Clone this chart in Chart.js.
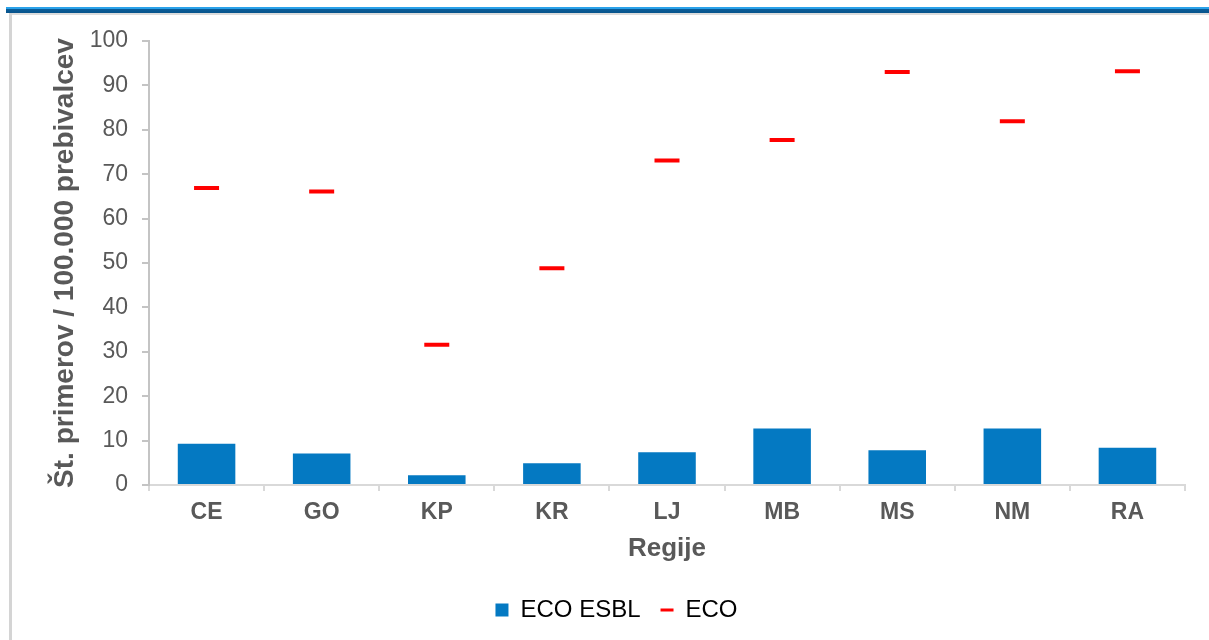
<!DOCTYPE html>
<html lang="sl">
<head>
<meta charset="utf-8">
<title>ECO / ECO ESBL po regijah</title>
<script src="https://cdn.jsdelivr.net/npm/chart.js@4"></script>
<style>
  html, body { margin: 0; padding: 0; background: #fff; }
  #okvir { position: relative; width: 1209px; height: 640px; overflow: hidden; }
  /* modra črta zgoraj in siv rob levo */
  #crta { position: absolute; left: 6px; right: 0; top: 7px; height: 6px;
          background: linear-gradient(#2aa2ea 0%, #2aa2ea 30%, #0b5c97 40%, #08548c 100%); }
  #crtaSiva { position: absolute; left: 9px; right: 0; top: 13px; height: 2px; background: #dcdcdc; }
  #rob { position: absolute; left: 9px; top: 13px; width: 3px; bottom: 0; background: #d4d4d4; }
  canvas { position: absolute; left: 0; top: 0; }
</style>
</head>
<body>
<div id="okvir">
  <div id="crta"></div>
  <div id="crtaSiva"></div>
  <div id="rob"></div>
  <canvas id="graf" width="1209" height="640"></canvas>
</div>
<script>
const regije = ["CE", "GO", "KP", "KR", "LJ", "MB", "MS", "NM", "RA"]
const ecoEsbl = [9.3, 7.1, 2.2, 4.9, 7.4, 12.7, 7.8, 12.7, 8.4]
const eco = [66.9, 66.1, 31.6, 48.8, 73.1, 77.7, 93.0, 81.9, 93.2]
const yTicks = [0, 10, 20, 30, 40, 50, 60, 70, 80, 90, 100]

const sivaBesedila = '#595959'
const pisava = '"Liberation Sans", Arial, sans-serif'

function narisiGraf() {
  const ctx = document.getElementById('graf').getContext('2d')
  new Chart(ctx, {
    type: 'bar',
    data: {
      labels: regije,
      datasets: [
        {
          label: 'ECO ESBL',
          data: ecoEsbl,
          backgroundColor: '#0479c2',
          borderWidth: 0,
          barPercentage: 0.5,
          categoryPercentage: 1.0,
          order: 2
        },
        {
          type: 'line',
          label: 'ECO',
          data: eco,
          showLine: false,
          pointStyle: 'line',
          pointRadius: 12.5,
          pointHoverRadius: 12.5,
          pointBorderWidth: 4,
          pointBorderColor: '#ff0000',
          borderColor: '#ff0000',
          order: 1
        }
      ]
    },
    options: {
      responsive: false,
      animation: false,
      layout: { padding: { top: 41, right: 24, left: 48, bottom: 8 } },
      plugins: {
        tooltip: { enabled: false },
        legend: {
          position: 'bottom',
          labels: {
            usePointStyle: true,
            pointStyleWidth: 13,
            boxHeight: 13,
            padding: 20,
            color: '#000',
            font: { family: pisava, size: 24 },
            generateLabels: () => [
              { text: 'ECO ESBL', fillStyle: '#0479c2', strokeStyle: '#0479c2', lineWidth: 0, pointStyle: 'rect', datasetIndex: 0, hidden: false },
              { text: 'ECO', fillStyle: '#ff0000', strokeStyle: '#ff0000', lineWidth: 3, pointStyle: 'line', datasetIndex: 1, hidden: false }
            ]
          }
        }
      },
      scales: {
        x: {
          grid: { drawOnChartArea: false, drawTicks: true, tickLength: 6, color: '#d9d9d9', lineWidth: 2 },
          border: { display: true, color: '#d9d9d9', width: 2 },
          ticks: { color: sivaBesedila, padding: 8, font: { family: pisava, size: 23, weight: 'bold' } },
          title: {
            display: true, text: 'Regije', color: sivaBesedila,
            font: { family: pisava, size: 26, weight: 'bold' },
            padding: { top: 0, bottom: 14 }
          },
          afterFit: scale => { scale.height = 93 }
        },
        y: {
          min: 0,
          max: 100,
          afterBuildTicks: scale => { scale.ticks = yTicks.map(v => ({ value: v })) },
          grid: { drawOnChartArea: false, drawTicks: true, tickLength: 7, color: '#c4c4c4', lineWidth: 2 },
          border: { display: true, color: '#c4c4c4', width: 2 },
          ticks: { color: sivaBesedila, padding: 14, font: { family: pisava, size: 23 } },
          title: {
            display: true, text: 'Št. primerov / 100.000 prebivalcev', color: sivaBesedila,
            font: { family: pisava, size: 28, weight: 'bold' },
            padding: { top: 0, bottom: 0 }
          },
          afterFit: scale => { scale.width = 101 }
        }
      }
    }
  })
}

window.onload = narisiGraf
</script>
</body>
</html>
